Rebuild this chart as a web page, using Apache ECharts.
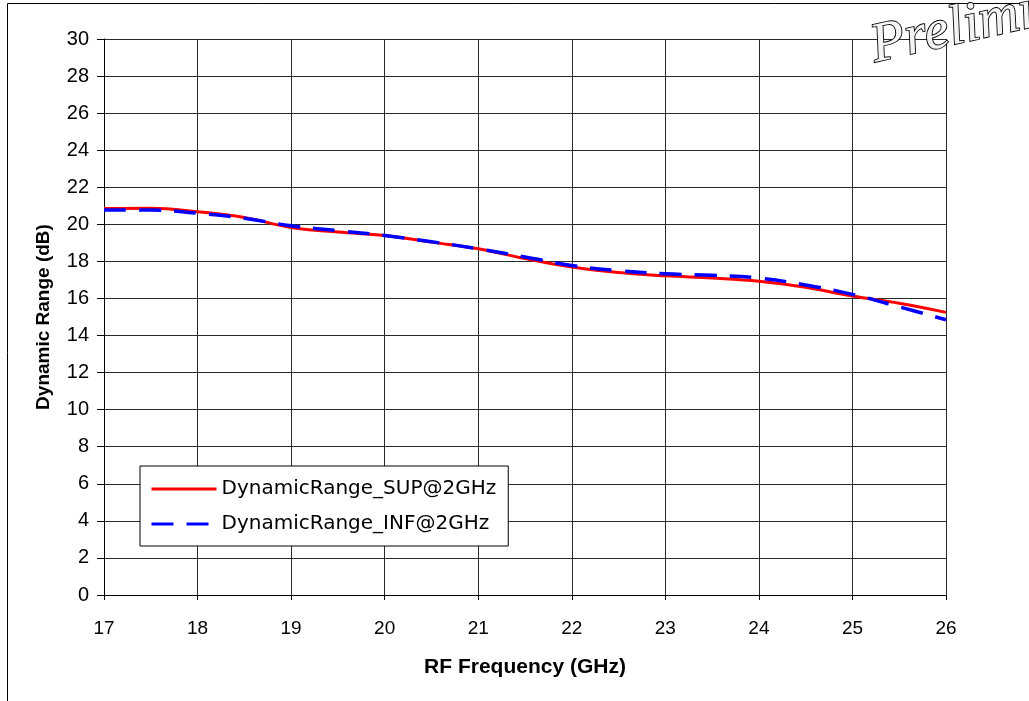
<!DOCTYPE html>
<html>
<head>
<meta charset="utf-8">
<script src="https://cdn.jsdelivr.net/npm/echarts@6/dist/echarts.min.js"></script>
<style>
  html, body { margin: 0; padding: 0; background: #fff; }
  #chart { width: 1029px; height: 701px; }
</style>
</head>
<body>
<div id="chart"></div>
<script>
// RF frequency sample points (GHz)
const freqs = [17, 17.5, 18, 18.5, 19, 19.5, 20, 20.5, 21, 21.5, 22, 22.5, 23, 23.5, 24, 24.5, 25, 25.5, 26];
// Dynamic range, upper sideband (dB)
const supValues = [20.85, 20.87, 20.68, 20.37, 19.83, 19.58, 19.4, 19.04, 18.68, 18.15, 17.7, 17.4, 17.22, 17.1, 16.93, 16.6, 16.13, 15.74, 15.25];
// Dynamic range, lower sideband (dB)
const infValues = [20.78, 20.77, 20.6, 20.33, 19.92, 19.66, 19.4, 19.06, 18.68, 18.24, 17.78, 17.5, 17.33, 17.25, 17.1, 16.73, 16.22, 15.55, 14.85];

const seriesNames = ['DynamicRange_SUP@2GHz', 'DynamicRange_INF@2GHz'];

const pair = (xs, ys) => xs.map((x, i) => [x, ys[i]]);

const chart = echarts.init(document.getElementById('chart'), null, { renderer: 'canvas' });

const SANS = 'Liberation Sans, Arial, sans-serif';

chart.setOption({
  animation: false,
  backgroundColor: '#fff',
  grid: { left: 104, top: 39, width: 842, height: 556, containLabel: false },
  xAxis: {
    type: 'value', min: 17, max: 26, interval: 1,
    name: 'RF Frequency (GHz)', nameLocation: 'middle', nameGap: 62,
    nameTextStyle: { fontFamily: SANS, fontSize: 21, fontWeight: 'bold', color: '#000' },
    axisLine: { lineStyle: { color: '#000', width: 1 } },
    axisTick: { show: true, length: 5, lineStyle: { color: '#000' } },
    axisLabel: { margin: 24, fontFamily: SANS, fontSize: 19, color: '#000' },
    splitLine: { show: true, lineStyle: { color: '#2a2a2a', width: 1 } }
  },
  yAxis: {
    type: 'value', min: 0, max: 30, interval: 2,
    name: 'Dynamic Range (dB)', nameLocation: 'middle', nameGap: 51, nameRotate: 90,
    nameTextStyle: { fontFamily: SANS, fontSize: 19, fontWeight: 'bold', color: '#000' },
    axisLine: { show: true, lineStyle: { color: '#000', width: 1 } },
    axisTick: { show: true, length: 7, lineStyle: { color: '#000' } },
    axisLabel: { margin: 15, fontFamily: SANS, fontSize: 20, color: '#000' },
    splitLine: { show: true, lineStyle: { color: '#2a2a2a', width: 1 } }
  },
  legend: {
    orient: 'vertical', left: 140, top: 466,
    padding: [13, 12, 12, 10], itemGap: 15,
    itemWidth: 65, itemHeight: 14, itemTextGap: 5,
    borderColor: '#000', borderWidth: 1, backgroundColor: '#fff',
    itemStyle: { opacity: 0 },
    lineStyle: { width: 3 },
    textStyle: { fontFamily: 'DejaVu Sans, sans-serif', fontSize: 20, color: '#000' },
    data: seriesNames
  },
  series: [
    {
      name: seriesNames[0], type: 'line', smooth: 0.4, symbol: 'none',
      data: pair(freqs, supValues),
      lineStyle: { color: '#ff0000', width: 3 },
      itemStyle: { color: '#ff0000' },
      z: 2
    },
    {
      name: seriesNames[1], type: 'line', smooth: 0.4, symbol: 'none',
      data: pair(freqs, infValues),
      lineStyle: { color: '#0000ff', width: 3.5, type: [22, 13] },
      itemStyle: { color: '#0000ff' },
      z: 3
    }
  ],
  graphic: [
    {
      type: 'rect', silent: true, z: -1,
      shape: { x: 7.5, y: 3.5, width: 1100, height: 800 },
      style: { fill: 'none', stroke: '#000', lineWidth: 1 }
    },
    {
      type: 'text', silent: true, z: 10,
      x: 878, y: 75, rotation: 0.22,
      style: {
        text: 'Preliminary',
        fontFamily: 'Liberation Serif, DejaVu Serif, serif',
        fontStyle: 'italic', fontSize: 56,
        fill: '#f4f4f4', stroke: '#000', lineWidth: 1.8,
        verticalAlign: 'bottom'
      }
    }
  ]
});
</script>
</body>
</html>
